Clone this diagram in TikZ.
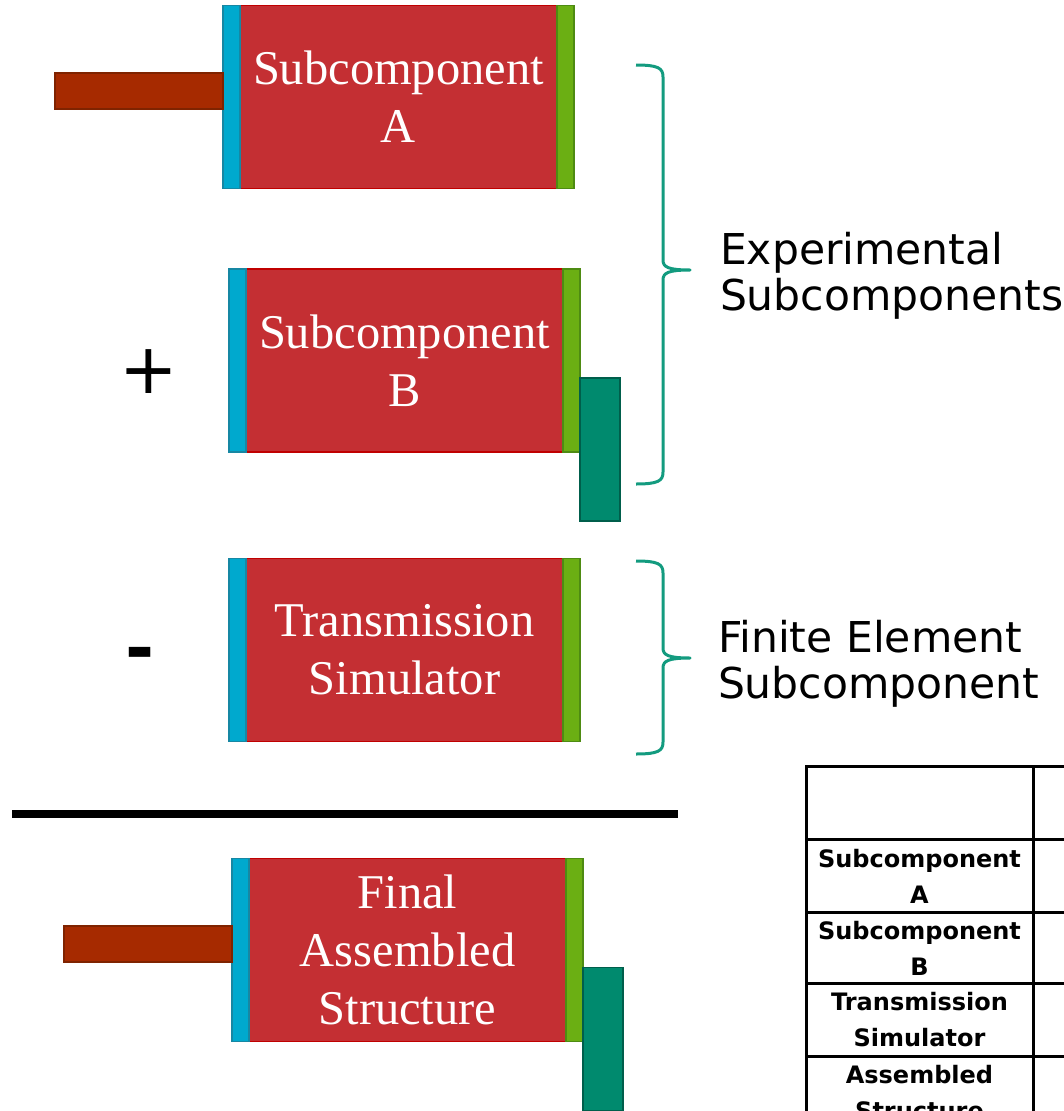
\documentclass[tikz,border=0pt]{standalone}
\usepackage{fontspec}
\setmainfont{Liberation Serif}
\setsansfont{DejaVu Sans}
\usepackage{tikz}
\usetikzlibrary{positioning}

\definecolor{bodyred}{HTML}{C42F33}
\definecolor{bodyedge}{HTML}{C00000}
\definecolor{flangeblue}{HTML}{00A9CE}
\definecolor{flangeblueedge}{HTML}{1787A3}
\definecolor{flangegreen}{HTML}{6BAF13}
\definecolor{flangegreenedge}{HTML}{4E8B12}
\definecolor{rodbrown}{HTML}{A62A00}
\definecolor{rodbrownedge}{HTML}{7F2300}
\definecolor{legteal}{HTML}{008A6E}
\definecolor{legtealedge}{HTML}{005E4B}
\definecolor{bracegreen}{HTML}{139B7F}

\begin{document}
\begin{tikzpicture}[x=1pt,y=-1pt,
  every node/.style={outer sep=0pt, inner sep=0pt},
  body/.style={draw=bodyedge, fill=bodyred, line width=1.5pt, minimum width=317pt, minimum height=183pt, text=white, align=center, font=\fontsize{48.5}{58}\selectfont},
  blueflange/.style={draw=flangeblueedge, fill=flangeblue, line width=1.5pt, minimum width=17pt, minimum height=183pt},
  greenflange/.style={draw=flangegreenedge, fill=flangegreen, line width=1.5pt, minimum width=17pt, minimum height=183pt},
  rod/.style={draw=rodbrownedge, fill=rodbrown, line width=1.5pt, minimum width=168pt, minimum height=36pt},
  leg/.style={draw=legtealedge, fill=legteal, line width=1.5pt, minimum width=40pt, minimum height=143pt},
  bracelabel/.style={anchor=west, align=left, font=\sffamily\fontsize{42.5}{46}\selectfont},
  cell/.style={align=center, font=\sffamily\bfseries\fontsize{24}{36}\selectfont}]
\clip (0,0) rectangle (1064,1111);

% subcomponent A
\node[body] (bodyA) at (398.5,97) {Subcomponent\\A};
\node[blueflange, left=0pt of bodyA] (blueA) {};
\node[greenflange, right=0pt of bodyA] (greenA) {};
\node[rod, left=0pt of blueA, yshift=6pt] (rodA) {};

% subcomponent B
\node[body] (bodyB) at (404.5,360.5) {Subcomponent\\B};
\node[blueflange, left=0pt of bodyB] (blueB) {};
\node[greenflange, right=0pt of bodyB] (greenB) {};
\node[leg, below right=109pt and 0pt of greenB.north east] (legB) {};

% transmission simulator
\node[body] (bodyTS) at (404.5,650) {Transmission\\Simulator};
\node[blueflange, left=0pt of bodyTS] (blueTS) {};
\node[greenflange, right=0pt of bodyTS] (greenTS) {};

% assembled structure
\node[body] (bodyF) at (407.5,950) {Final\\Assembled\\Structure};
\node[blueflange, left=0pt of bodyF] (blueF) {};
\node[greenflange, right=0pt of bodyF] (greenF) {};
\node[rod, left=0pt of blueF, yshift=6pt] (rodF) {};
\node[leg, below right=109pt and 0pt of greenF.north east] (legF) {};

\node[font=\sffamily\fontsize{70}{70}\selectfont] (plus) at (149,372) {+};
\node[font=\sffamily\bfseries\fontsize{70}{70}\selectfont] (minus) at (140,660) {-};
\draw[line width=8pt] (12,814) -- (678,814);

% braces
\foreach \ytop/\ytip/\ybot in {65/270/484, 561/658/754}
  \draw[bracegreen, line width=3pt, line join=round]
    (636,\ytop) .. controls (658,\ytop) and (663,\ytop+3) .. (663,\ytop+12)
    -- (663,\ytip-10) .. controls (663,\ytip-3) and (668,\ytip) .. (690,\ytip)
    .. controls (668,\ytip) and (663,\ytip+3) .. (663,\ytip+10)
    -- (663,\ybot-12) .. controls (663,\ybot-3) and (658,\ybot) .. (636,\ybot);
\node[bracelabel] (expLabel) at (720,276) {Experimental\\Subcomponents};
\node[bracelabel] (feLabel) at (718,664) {Finite Element\\Subcomponent};

% table
\draw[line width=3pt] (806,766) rectangle (1090,1130);
\foreach \y in {839, 912, 983, 1056}
  \draw[line width=3pt] (806,\y) -- (1090,\y);
\draw[line width=3pt] (1033,766) -- (1033,1130);
\node[cell] (cellA) at (919.5,876) {Subcomponent\\A};
\node[cell] (cellB) at (919.5,948) {Subcomponent\\B};
\node[cell] (cellTS) at (919.5,1020) {Transmission\\Simulator};
\node[cell] (cellAS) at (919.5,1093) {Assembled\\Structure};
\end{tikzpicture}
\end{document}
